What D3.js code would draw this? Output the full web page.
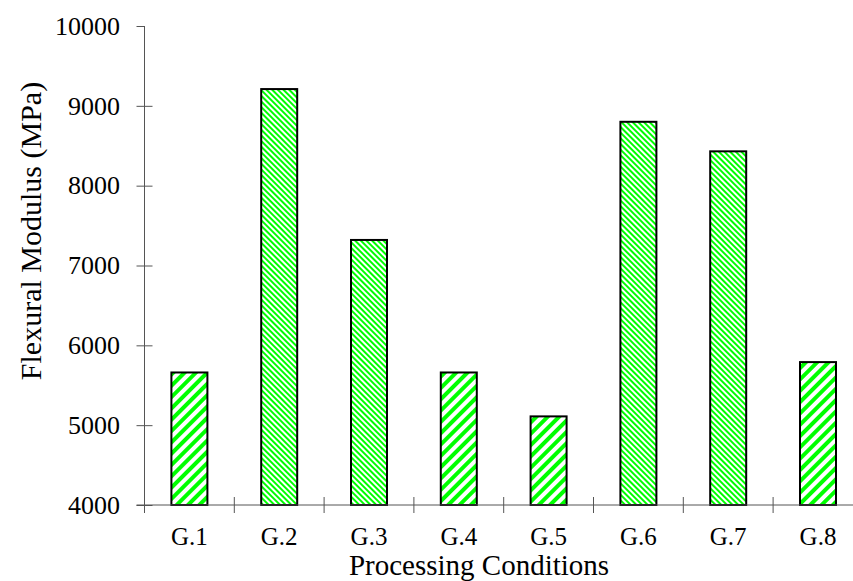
<!DOCTYPE html>
<html>
<head>
<meta charset="utf-8">
<script src="https://cdn.jsdelivr.net/npm/d3@7"></script>
<style>
  body { margin: 0; background: white; }
  svg { display: block; }
</style>
</head>
<body>
<svg width="853" height="581"></svg>
<script>
const categories = ['G.1', 'G.2', 'G.3', 'G.4', 'G.5', 'G.6', 'G.7', 'G.8']
const modulus = [5660, 9210, 7320, 5660, 5110, 8800, 8430, 5790]
// which hatch each bar uses: wide '/' or fine '\'
const hatch = ['wide', 'fine', 'fine', 'wide', 'wide', 'fine', 'fine', 'wide']
const yTicks = [4000, 5000, 6000, 7000, 8000, 9000, 10000]

const svg = d3.select('svg')
const font = 'Liberation Serif, Times New Roman, serif'
const axisColor = '#555'

const margin = { left: 144.5, top: 26, bottom: 505 }

const x = d3.scaleBand()
  .domain(categories)
  .range([margin.left, margin.left + 8 * 89.8])
  .paddingInner(0)
const y = d3.scaleLinear()
  .domain([4000, 10000])
  .range([margin.bottom, margin.top])

// hatch patterns
const defs = svg.append('defs')
const addHatch = (id, size, stroke, angle) => {
  const pat = defs.append('pattern')
    .attr('id', id)
    .attr('patternUnits', 'userSpaceOnUse')
    .attr('width', size).attr('height', size)
    .attr('patternTransform', `rotate(${angle})`)
  pat.append('rect')
    .attr('width', size).attr('height', size).attr('fill', 'white')
  pat.append('rect')
    .attr('width', stroke).attr('height', size).attr('fill', '#00ff00')
}
addHatch('wide', 8, 4, 45)
addHatch('fine', 4, 2, -45)

// bars
const barW = 36
svg.append('g').selectAll('rect')
  .data(categories)
  .join('rect')
  .attr('x', d => x(d) + x.bandwidth() / 2 - barW / 2)
  .attr('y', (d, i) => y(modulus[i]))
  .attr('width', barW)
  .attr('height', (d, i) => y(4000) - y(modulus[i]))
  .attr('fill', (d, i) => `url(#${hatch[i]})`)
  .attr('stroke', 'black')
  .attr('stroke-width', 2)

// y axis
const yAxis = svg.append('g')
  .attr('transform', `translate(${margin.left},0)`)
  .call(d3.axisLeft(y).tickValues(yTicks).tickSize(8).tickPadding(16.5).tickFormat(d3.format('d')))
yAxis.select('.domain').remove()
yAxis.append('line')
  .attr('y1', margin.top).attr('y2', margin.bottom + 8)
  .attr('stroke', axisColor)
yAxis.selectAll('.tick line')
  .attr('x1', (d) => d === 10000 ? 0 : 8)
  .attr('x2', -8)
  .attr('stroke', axisColor)
yAxis.selectAll('.tick text')
  .attr('font-family', font).attr('font-size', 26).attr('fill', 'black')

// x axis
const xAxis = svg.append('g')
  .attr('transform', `translate(0,${margin.bottom})`)
xAxis.append('line')
  .attr('x1', margin.left - 8).attr('x2', 853)
  .attr('stroke', axisColor)
xAxis.selectAll('line.sep')
  .data(categories.slice(1))
  .join('line')
  .attr('class', 'sep')
  .attr('x1', d => x(d)).attr('x2', d => x(d))
  .attr('y1', -8).attr('y2', 8)
  .attr('stroke', axisColor)
xAxis.selectAll('text')
  .data(categories)
  .join('text')
  .attr('x', d => x(d) + x.bandwidth() / 2)
  .attr('y', 40)
  .attr('text-anchor', 'middle')
  .attr('font-family', font).attr('font-size', 25)
  .text(d => d)

// titles
svg.append('text')
  .attr('x', 479).attr('y', 575)
  .attr('text-anchor', 'middle')
  .attr('font-family', font).attr('font-size', 29)
  .text('Processing Conditions')
svg.append('text')
  .attr('transform', `translate(41,231) rotate(-90)`)
  .attr('text-anchor', 'middle')
  .attr('font-family', font).attr('font-size', 30)
  .text('Flexural Modulus (MPa)')
</script>
</body>
</html>
